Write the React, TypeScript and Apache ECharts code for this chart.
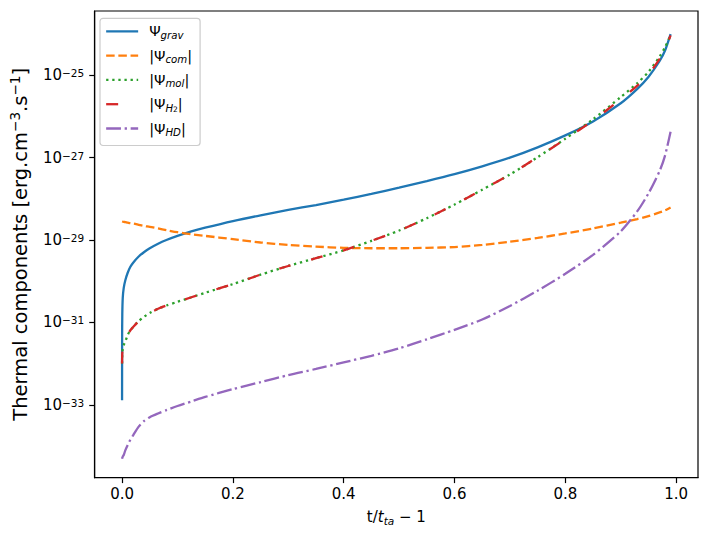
import React, { useEffect, useRef } from "react";
import * as echarts from "echarts";

// x : t/t_ta - 1
const tValues = [0, 0.0001, 0.0004, 0.0012, 0.003, 0.006, 0.01, 0.015, 0.02, 0.03, 0.04, 0.05, 0.065, 0.08, 0.1, 0.125, 0.15, 0.2, 0.25, 0.3, 0.35, 0.4, 0.45, 0.5, 0.55, 0.6, 0.65, 0.7, 0.75, 0.8, 0.85, 0.9, 0.93, 0.95, 0.97, 0.98, 0.99];

// log10 of each thermal component [erg.cm^-3.s^-1]
const logGrav = [-32.89, -31.3, -30.8, -30.41, -30.16, -29.97, -29.8, -29.65, -29.55, -29.4, -29.29, -29.2, -29.09, -29.0, -28.9, -28.79, -28.7, -28.54, -28.4, -28.27, -28.15, -28.02, -27.88, -27.73, -27.57, -27.4, -27.21, -27.0, -26.75, -26.46, -26.12, -25.68, -25.33, -25.04, -24.66, -24.4, -24.0];
const logCom = [-28.55, -28.55, -28.55, -28.55, -28.56, -28.565, -28.58, -28.59, -28.6, -28.63, -28.66, -28.68, -28.72, -28.76, -28.81, -28.86, -28.9, -28.98, -29.06, -29.12, -29.16, -29.19, -29.2, -29.2, -29.19, -29.17, -29.12, -29.04, -28.95, -28.84, -28.72, -28.58, -28.49, -28.42, -28.33, -28.28, -28.21];
const logMol = [-32.0, -31.85, -31.75, -31.65, -31.55, -31.46, -31.31, -31.19, -31.11, -30.97, -30.86, -30.77, -30.67, -30.59, -30.5, -30.39, -30.28, -30.07, -29.84, -29.63, -29.44, -29.25, -29.02, -28.77, -28.47, -28.14, -27.78, -27.41, -26.99, -26.54, -26.07, -25.53, -25.19, -24.92, -24.55, -24.32, -24.02];
const logH2 = [-32.0, -31.85, -31.75, -31.65, -31.55, -31.46, -31.31, -31.19, -31.11, -30.97, -30.86, -30.77, -30.67, -30.59, -30.5, -30.39, -30.28, -30.07, -29.84, -29.63, -29.44, -29.25, -29.02, -28.77, -28.47, -28.14, -27.78, -27.41, -26.99, -26.55, -26.1, -25.58, -25.25, -24.98, -24.61, -24.37, -24.03];
const logHD = [-34.31, -34.3, -34.29, -34.26, -34.22, -34.1, -33.98, -33.85, -33.74, -33.53, -33.39, -33.3, -33.21, -33.13, -33.03, -32.92, -32.81, -32.62, -32.45, -32.28, -32.13, -31.97, -31.81, -31.63, -31.41, -31.18, -30.93, -30.6, -30.23, -29.82, -29.36, -28.79, -28.3, -27.87, -27.33, -26.95, -26.37];

const seriesNames = ["Ψgrav", "|Ψcom|", "|Ψmol|", "|ΨH2|", "|ΨHD|"];
const legendLabels = [
  "Ψ{s|grav}",
  "|Ψ{s|com}|",
  "|Ψ{s|mol}|",
  "|Ψ{s|H}{ss|2}|",
  "|Ψ{s|HD}|",
];
const xTicks = [0, 0.2, 0.4, 0.6, 0.8, 1.0];
const yTickExponents = [-33, -31, -29, -27, -25];

const FONT = "DejaVu Sans";

export default function App() {
  const ref = useRef<HTMLDivElement>(null);

  useEffect(() => {
    if (!ref.current) return;
    const chart = echarts.init(ref.current, null, { renderer: "svg" });
    const mk = (arr: number[]) => tValues.map((t, i) => [t, arr[i]]);
    const lw = 2.3;
    const seriesDefs = [
      { data: logGrav, color: "#1f77b4", type: "solid" as any },
      { data: logCom, color: "#ff7f0e", type: [8.5, 3.7] },
      { data: logMol, color: "#2ca02c", type: [2.3, 3.8] },
      { data: logH2, color: "#d62728", type: [12, 21] },
      { data: logHD, color: "#9467bd", type: [14.8, 3.7, 2.3, 3.7] },
    ];
    const option: any = {
      animation: false,
      textStyle: { fontFamily: FONT },
      grid: {
        left: 92.3,
        right: 11,
        top: 11,
        bottom: 57.3,
        show: true,
        borderColor: "#000",
        borderWidth: 1.2,
        backgroundColor: "transparent",
      },
      xAxis: {
        type: "value",
        min: -0.0495,
        max: 1.0395,
        splitLine: { show: false },
        axisLine: { show: true, onZero: false, lineStyle: { color: "#000", width: 1.2 } },
        axisTick: { show: true, length: 5.4, lineStyle: { color: "#000", width: 1.2 }, customValues: xTicks },
        axisLabel: {
          customValues: xTicks,
          formatter: (v: number) => v.toFixed(1),
          fontSize: 15,
          color: "#000",
          margin: 9,
          fontFamily: FONT,
        },
        name: "t/{it|t}{sub|ta} − 1",
        nameLocation: "middle",
        nameGap: 29,
        nameTextStyle: {
          fontSize: 15,
          color: "#000",
          fontFamily: FONT,
          lineHeight: 20,
          rich: {
            it: { fontSize: 15, fontStyle: "italic", fontFamily: FONT, color: "#000", lineHeight: 20 },
            sub: { fontSize: 10.5, fontStyle: "italic", fontFamily: FONT, color: "#000", verticalAlign: "bottom", lineHeight: 12 },
          },
        },
      },
      yAxis: {
        type: "value",
        min: -34.77,
        max: -23.44,
        splitLine: { show: false },
        axisLine: { show: true, onZero: false, lineStyle: { color: "#000", width: 1.2 } },
        axisTick: { show: true, length: 5.4, lineStyle: { color: "#000", width: 1.2 }, customValues: yTickExponents },
        axisLabel: {
          customValues: yTickExponents,
          formatter: (v: number) => `{b|10}{sup|${String(v).replace("-", "−")}}`,
          fontSize: 15,
          color: "#000",
          margin: 10.5,
          fontFamily: FONT,
          rich: {
            b: { fontSize: 15, fontFamily: FONT, color: "#000", lineHeight: 15, padding: [3, 0, 0, 0], verticalAlign: "bottom" },
            sup: { fontSize: 10.5, fontFamily: FONT, color: "#000", lineHeight: 11, verticalAlign: "top" },
          },
        },
        name: "Thermal components [erg.cm{sup|−3}.s{sup|−1}]",
        nameLocation: "middle",
        nameRotate: 90,
        nameGap: 56,
        nameTextStyle: {
          fontSize: 19.5,
          color: "#000",
          fontFamily: FONT,
          lineHeight: 24,
          rich: {
            sup: { fontSize: 13.6, fontFamily: FONT, color: "#000", lineHeight: 14, verticalAlign: "top" },
          },
        },
      },
      legend: {
        show: true,
        orient: "vertical",
        left: 100,
        top: 18.3,
        itemWidth: 32,
        itemHeight: 14,
        itemGap: 6.3,
        padding: [4, 8, 8, 5],
        backgroundColor: "rgba(255,255,255,0.8)",
        borderColor: "#cccccc",
        borderWidth: 1.2,
        borderRadius: 3,
        lineStyle: { width: lw },
        itemStyle: { opacity: 0 },
        data: seriesNames,
        formatter: (name: string) => legendLabels[seriesNames.indexOf(name)],
        textStyle: {
          fontSize: 14.5,
          fontFamily: FONT,
          color: "#000",
          lineHeight: 18,
          padding: [0, 0, 0, 6],
          rich: {
            s: { fontSize: 10.2, fontStyle: "italic", fontFamily: FONT, color: "#000", verticalAlign: "bottom", lineHeight: 12 },
            ss: { fontSize: 7.5, fontFamily: FONT, color: "#000", verticalAlign: "bottom", lineHeight: 9 },
          },
        },
      },
      series: seriesDefs.map((s, i) => ({
        name: seriesNames[i],
        type: "line",
        data: mk(s.data),
        showSymbol: false,
        symbol: "none",
        smooth: 0.25,
        clip: true,
        itemStyle: { color: s.color },
        lineStyle: { color: s.color, width: lw, type: s.type, cap: "butt" },
        z: 2 + i,
      })),
    };
    chart.setOption(option);
    return () => chart.dispose();
  }, []);

  return (
    <div
      ref={ref}
      style={{ position: "absolute", left: 0, top: 0, width: 709, height: 535, background: "#fff" }}
    />
  );
}
